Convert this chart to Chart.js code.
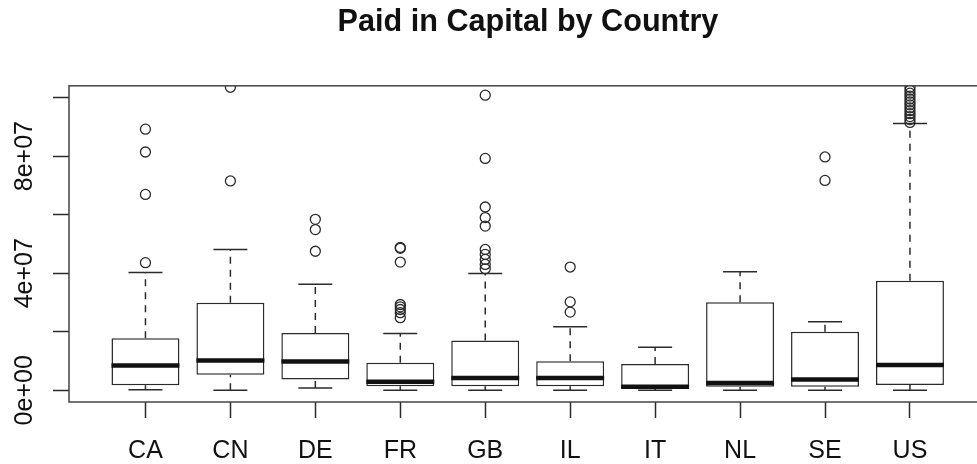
<!DOCTYPE html>
<html>
<head>
<meta charset="utf-8">
<title>Paid in Capital by Country</title>
<script src="https://cdn.jsdelivr.net/npm/chart.js@4.4.0/dist/chart.umd.min.js"></script>
<style>
  html, body { margin: 0; padding: 0; background: #fff; overflow: hidden; }
  #wrap { width: 1056px; height: 464px; }
</style>
</head>
<body>
<div id="wrap"><canvas id="mycanvas" width="1056" height="464"></canvas></div>
<script>
// box statistics
var countries    = ['CA', 'CN', 'DE', 'FR', 'GB', 'IL', 'IT', 'NL', 'SE', 'US'];
var lowerWhisker = [2e5, 0, 8e5, 0, 0, 0, 0, 0, 0, 0];
var q1           = [1.7e6, 5.3e6, 3.7e6, 1.4e6, 1.4e6, 1.4e6, 5e5, 1.2e6, 1.2e6, 1.8e6];
var median       = [8.5e6, 1.02e7, 9.8e6, 2.9e6, 4.2e6, 4.2e6, 1.2e6, 2.5e6, 3.7e6, 8.6e6];
var q3           = [1.78e7, 2.99e7, 1.96e7, 9.4e6, 1.70e7, 9.9e6, 9.0e6, 3.01e7, 2.0e7, 3.74e7];
var upperWhisker = [4.02e7, 4.81e7, 3.62e7, 1.94e7, 3.99e7, 2.17e7, 1.47e7, 4.05e7, 2.34e7, 9.11e7];
var outliers = [
  [4.36e7, 6.69e7, 8.14e7, 8.92e7],
  [7.15e7, 1.035e8],
  [4.75e7, 5.49e7, 5.84e7],
  [2.48e7, 2.65e7, 2.76e7, 2.85e7, 2.93e7, 4.38e7, 4.85e7, 4.88e7],
  [4.15e7, 4.30e7, 4.47e7, 4.64e7, 4.81e7, 5.61e7, 5.90e7, 6.26e7, 7.92e7, 1.008e8],
  [2.67e7, 3.02e7, 4.21e7],
  [],
  [],
  [7.17e7, 7.97e7],
  [9.15e7, 9.25e7, 9.35e7, 9.45e7, 9.55e7, 9.65e7, 9.75e7, 9.85e7, 9.95e7, 1.005e8, 1.015e8, 1.025e8, 1.035e8]
];
var yTickValues = [0, 2e7, 4e7, 6e7, 8e7, 1e8];
var yTickLabels = ['0e+00', '', '4e+07', '', '8e+07', ''];

var lineColor = '#2b2b2b';
var font = "'Liberation Sans', Arial, Helvetica, sans-serif";

var boxes = [], medians = [], whiskers = [], caps = [], points = [];
for (var i = 0; i < countries.length; i++) {
  var x = i + 1;
  boxes.push({x: x, y: [q1[i], q3[i]]});
  medians.push({x: x - 0.4, y: median[i]}, {x: x + 0.4, y: median[i]}, {x: x, y: null});
  whiskers.push({x: x, y: q3[i]}, {x: x, y: upperWhisker[i]}, {x: x, y: null});
  whiskers.push({x: x, y: lowerWhisker[i]}, {x: x, y: q1[i]}, {x: x, y: null});
  caps.push({x: x - 0.2, y: upperWhisker[i]}, {x: x + 0.2, y: upperWhisker[i]}, {x: x, y: null});
  caps.push({x: x - 0.2, y: lowerWhisker[i]}, {x: x + 0.2, y: lowerWhisker[i]}, {x: x, y: null});
  for (var j = 0; j < outliers[i].length; j++) {
    points.push({x: x, y: outliers[i][j]});
  }
}

// frame round the plot region (right side falls outside the window, as in the original)
var framePlugin = {
  id: 'frame',
  afterDatasetsDraw: function(chart) {
    var a = chart.chartArea, ctx = chart.ctx;
    ctx.save();
    ctx.strokeStyle = '#444';
    ctx.lineWidth = 1.5;
    ctx.strokeRect(a.left, a.top, a.right - a.left, a.bottom - a.top);
    ctx.restore();
  }
};

var ctx = document.getElementById('mycanvas');

var BoxChart = new Chart(ctx, {
  type: 'bar',
  data: {
    datasets: [
      {
        type: 'line',
        label: 'outliers',
        data: points,
        showLine: false,
        pointRadius: 5,
        pointHoverRadius: 5,
        pointBorderWidth: 1.3,
        pointBorderColor: lineColor,
        pointBackgroundColor: 'rgba(0,0,0,0)',
        order: 0
      },
      {
        type: 'line',
        label: 'median',
        data: medians,
        borderColor: '#111',
        borderWidth: 4.5,
        pointRadius: 0,
        spanGaps: false,
        order: 1
      },
      {
        type: 'line',
        label: 'caps',
        data: caps,
        borderColor: lineColor,
        borderWidth: 1.5,
        pointRadius: 0,
        spanGaps: false,
        order: 2
      },
      {
        type: 'line',
        label: 'whiskers',
        data: whiskers,
        borderColor: lineColor,
        borderWidth: 1.5,
        borderDash: [7, 6],
        pointRadius: 0,
        spanGaps: false,
        order: 3
      },
      {
        type: 'bar',
        label: 'boxes',
        data: boxes,
        backgroundColor: '#fff',
        borderColor: lineColor,
        borderWidth: 1.5,
        borderSkipped: false,
        barPercentage: 0.8,
        categoryPercentage: 1,
        order: 4
      }
    ]
  },
  options: {
    responsive: false,
    animation: false,
    events: [],
    layout: { padding: 0 },
    plugins: {
      legend: { display: false },
      tooltip: { enabled: false },
      title: {
        display: true,
        text: 'Paid in Capital by Country',
        color: '#111',
        font: { family: font, size: 30.6, weight: 'bold' },
        padding: { top: 4.3, bottom: 44.8 }
      }
    },
    scales: {
      x: {
        type: 'linear',
        min: 0.1,
        max: 11.645,
        offset: false,
        border: { display: false },
        grid: { display: true, drawOnChartArea: false, offset: false, tickLength: 16, tickColor: lineColor, tickWidth: 1.5 },
        afterBuildTicks: function(scale) {
          scale.ticks = countries.map(function(c, k) { return {value: k + 1}; });
        },
        afterFit: function(scale) { scale.height = 62; },
        ticks: {
          autoSkip: false,
          maxRotation: 0,
          padding: 18,
          color: '#111',
          font: { family: font, size: 25 },
          callback: function(value) { return countries[value - 1]; }
        }
      },
      y: {
        min: -4e6,
        max: 1.04e8,
        border: { display: false },
        grid: { display: true, drawOnChartArea: false, tickLength: 16, tickColor: lineColor, tickWidth: 1.5 },
        afterBuildTicks: function(scale) {
          scale.ticks = yTickValues.map(function(v) { return {value: v}; });
        },
        afterFit: function(scale) { scale.width = 69; },
        ticks: {
          autoSkip: false,
          minRotation: 90,
          maxRotation: 90,
          crossAlign: 'center',
          padding: -7,
          color: '#111',
          font: { family: font, size: 25 },
          callback: function(value) {
            var k = yTickValues.indexOf(value);
            return k >= 0 ? yTickLabels[k] : '';
          }
        }
      }
    }
  },
  plugins: [framePlugin]
});
</script>
</body>
</html>
